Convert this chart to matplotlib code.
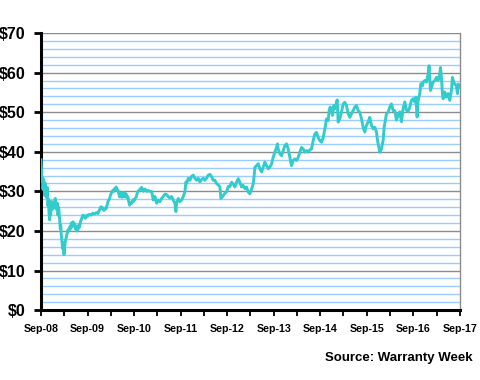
import matplotlib
matplotlib.use('Agg')
import matplotlib.pyplot as plt
from matplotlib.ticker import MultipleLocator, FixedLocator

# months since Sep-08 and share price in $
months = [0.0, 0.15, 0.26, 0.4, 0.52, 0.7, 0.95, 1.1, 1.37, 1.6, 1.8, 1.95, 2.06, 2.23, 2.35, 2.49,
          2.66, 2.9, 3.09, 3.3, 3.52, 3.69, 3.85, 3.95, 4.2, 4.38, 4.55, 4.64, 4.8, 4.98, 5.1, 5.24,
          5.4, 5.58, 5.75, 5.93, 6.1, 6.3, 6.53, 6.75, 6.96, 7.2, 7.39, 7.6, 7.82, 8.0, 8.25, 8.45,
          8.68, 8.9, 9.11, 9.3, 9.53, 9.75, 9.96, 10.2, 10.39, 10.6, 10.82, 11.05, 11.25, 11.45,
          11.68, 11.9, 12.11, 12.5, 12.97, 13.4, 13.83, 14.25, 14.69, 14.9, 15.12, 15.35, 15.55,
          15.75, 15.98, 16.2, 16.41, 16.6, 16.84, 17.05, 17.27, 17.5, 17.7, 17.9, 18.12, 18.35,
          18.55, 18.75, 18.98, 19.2, 19.41, 19.6, 19.84, 20.05, 20.27, 20.5, 20.7, 20.9, 21.13,
          21.35, 21.56, 21.75, 21.99, 22.2, 22.42, 22.6, 22.85, 23.05, 23.28, 23.5, 23.71, 23.9,
          24.14, 24.35, 24.57, 24.8, 25.0,
          25.51, 25.94, 26.37, 26.8, 27.23, 27.66, 28.09, 28.52, 28.78, 28.95, 29.38, 29.81, 30.24,
          30.67, 31.1, 31.52, 31.95, 32.38, 32.81, 33.24, 33.67, 34.1, 34.53, 34.79, 34.96, 35.39,
          35.82, 36.25, 36.68, 37.11, 37.37, 37.54, 37.97, 38.4, 38.83, 39.26, 39.69, 40.12, 40.54,
          40.97, 41.4, 41.83, 42.26, 42.69, 43.12, 43.55, 43.98, 44.41, 44.84, 45.27, 45.7, 46.13,
          46.39, 46.82, 47.42, 47.85, 48.28, 48.71,
          49.14, 49.56, 49.99, 50.42, 50.85, 51.28, 51.71, 52.14, 52.57, 53.0, 53.43, 53.86, 54.29,
          54.72, 54.97, 55.15, 55.58, 56.01, 56.44, 56.87, 57.3, 57.72, 58.15, 58.58, 59.01, 59.44,
          59.87, 60.3, 60.73, 60.99, 61.16, 61.59, 62.02, 62.45, 62.88, 63.31, 63.74, 64.17, 64.6,
          65.03, 65.46, 65.89, 66.32, 66.75, 67.18, 67.6, 68.03, 68.46, 68.89, 69.32, 69.75, 70.18,
          70.61, 71.04, 71.47, 71.9, 72.33, 72.76, 73.19,
          73.62, 74.05, 74.3, 74.56, 74.9, 75.16, 75.51, 75.76, 76.19, 76.37, 76.62, 77.05, 77.48,
          77.91, 78.34, 78.77, 79.2, 79.63, 80.06, 80.49, 80.92, 81.35, 81.78, 82.21, 82.64, 83.06,
          83.49, 83.92, 84.35, 84.78, 85.21, 85.64, 86.07, 86.5, 86.76, 87.1, 87.36, 87.79, 88.22,
          88.48, 88.82, 89.08, 89.51, 89.94, 90.37, 90.8, 91.23,
          91.66, 92.08, 92.51, 92.94, 93.37, 93.8, 94.23, 94.66, 95.09, 95.52, 95.95, 96.38, 96.64,
          96.98, 97.24, 97.67, 97.93, 98.36, 98.53, 98.96, 99.39, 99.82, 100.07, 100.24, 100.42,
          100.67, 101.1, 101.53, 101.96, 102.39, 102.82, 103.0, 103.25, 103.51, 103.68, 104.11,
          104.54, 104.97, 105.4, 105.83, 106.09, 106.43, 106.69, 107.12, 107.37, 107.55, 107.8]

price = [38.0, 35.0, 32.5, 33.5, 30.5, 33.0, 29.0, 32.0, 28.5, 31.0, 26.3, 28.0, 24.5, 22.8, 26.0, 24.0,
         27.5, 25.5, 27.0, 25.8, 27.5, 28.2, 26.5, 25.5, 27.0, 24.0, 26.0, 25.0, 23.0, 20.5, 21.5, 18.8,
         17.5, 15.5, 17.0, 14.0, 16.0, 17.5, 18.5, 19.5, 20.3, 20.0, 21.0, 20.5, 22.0, 21.0, 22.3, 21.5,
         21.8, 20.5, 21.2, 20.0, 20.3, 21.5, 21.0, 22.5, 22.8, 23.5, 24.0, 23.5, 23.8, 23.2,
         23.5, 24.0, 23.8, 24.2, 24.0, 24.5, 24.3, 24.6, 24.4, 25.0, 25.3, 26.0, 26.1,
         25.6, 25.8, 25.2, 25.3, 25.8, 25.7, 26.5, 27.4, 27.8, 28.2, 29.0, 29.5, 30.0,
         30.3, 30.0, 30.7, 30.5, 31.1, 30.5, 30.3, 29.5, 28.6, 29.5, 29.3, 28.5, 29.7,
         28.8, 28.6, 29.5, 29.3, 28.4, 28.6, 27.5, 26.5, 27.0, 26.9, 27.5, 27.3, 28.0,
         27.8, 28.3, 28.6, 29.5, 30.0,
         30.5, 31.0, 30.0, 30.6, 30.0, 30.2, 30.0, 30.0, 28.7, 27.8, 28.7, 27.0, 27.8,
         27.4, 28.2, 28.7, 29.3, 29.2, 28.7, 28.3, 28.7, 27.8, 27.0, 24.9, 27.0, 28.2,
         27.4, 27.8, 28.7, 29.9, 32.4, 32.0, 33.3, 32.8, 33.8, 34.1, 33.3, 32.8, 33.3,
         32.4, 33.0, 33.3, 32.8, 33.3, 34.1, 34.3, 33.7, 32.8, 32.8, 32.0, 31.6, 31.2,
         28.2, 28.7, 29.5, 29.9, 31.2, 31.2,
         32.3, 31.9, 31.1, 32.3, 33.2, 32.3, 31.1, 31.5, 30.7, 31.1, 29.8, 29.4, 30.6,
         31.9, 34.0, 36.1, 36.5, 37.0, 35.7, 34.9, 36.1, 37.4, 36.5, 35.7, 36.1, 36.9,
         38.6, 39.9, 41.1, 42.0, 40.7, 39.5, 39.0, 40.3, 41.5, 42.0, 40.7, 38.6, 36.5,
         37.8, 38.2, 37.8, 38.6, 39.9, 41.1, 40.7, 39.9, 40.3, 39.9, 40.5, 40.7, 42.8,
         44.5, 44.9, 43.6, 42.8, 42.4, 43.6, 45.7,
         48.3, 47.9, 50.4, 51.3, 50.4, 49.2, 51.7, 50.9, 52.5, 53.1, 47.5, 48.3, 50.0,
         52.1, 52.5, 51.7, 49.6, 48.7, 49.6, 50.4, 51.3, 51.7, 50.4, 50.0, 48.3, 46.2,
         45.0, 46.7, 47.5, 48.7, 46.7, 45.8, 46.2, 45.0, 42.9, 41.2, 39.9, 40.7, 42.9,
         46.2, 48.2, 49.6, 50.0, 51.3, 52.1, 50.4, 50.4,
         48.0, 49.3, 50.1, 47.6, 50.9, 52.6, 50.5, 50.1, 51.3, 53.0, 53.4, 52.6, 53.8,
         48.8, 53.0, 54.7, 57.2, 56.7, 57.6, 58.0, 57.6, 59.7, 61.75, 58.8, 55.5,
         56.3, 57.6, 58.0, 58.8, 58.0, 59.7, 61.3, 58.8, 54.7, 53.4, 55.1,
         53.8, 54.7, 53.0, 55.5, 58.8, 57.6, 57.1, 56.7, 54.7, 57.1, 56.3]

tick_labels = ['Sep-08', 'Sep-09', 'Sep-10', 'Sep-11', 'Sep-12',
               'Sep-13', 'Sep-14', 'Sep-15', 'Sep-16', 'Sep-17']

plt.rcParams['font.family'] = ['Liberation Sans', 'DejaVu Sans']

fig = plt.figure(figsize=(4.8, 3.8), dpi=100)
ax = fig.add_axes([0.0854, 0.184, 0.8726, 0.729])

ax.plot(months, price, color='#33CCCC', lw=2.1, zorder=3)

ax.set_xlim(0, 108)
ax.set_ylim(0, 70)

# grid: light blue every $2, grey every $10
ax.yaxis.set_minor_locator(MultipleLocator(2))
ax.yaxis.set_major_locator(MultipleLocator(10))
ax.grid(which='minor', axis='y', color='#99CCFF', lw=1.0, zorder=1)
ax.grid(which='major', axis='y', color='#8C8C8C', lw=1.0, zorder=2)

ax.set_yticks(range(0, 71, 10))
ax.set_yticklabels(['$%d' % v for v in range(0, 71, 10)], fontsize=11.5, fontweight='bold')
ax.tick_params(axis='y', which='major', direction='out', length=5, width=2, pad=6)
ax.tick_params(axis='y', which='minor', length=0)

ax.xaxis.set_major_locator(FixedLocator([12 * i for i in range(10)]))
ax.xaxis.set_minor_locator(FixedLocator([6 + 12 * i for i in range(9)]))
ax.set_xticklabels(tick_labels, fontsize=7.7, fontweight='bold')
ax.tick_params(axis='x', which='both', direction='out', length=4, width=1.3, pad=6)

ax.spines['left'].set_linewidth(2.2)
ax.spines['bottom'].set_linewidth(2.2)
ax.spines['right'].set_color('#8C8C8C')
ax.spines['right'].set_linewidth(1.0)
ax.spines['top'].set_visible(False)

fig.text(0.985, 0.058, 'Source: Warranty Week', ha='right', va='center',
         fontsize=9.5, fontweight='bold')

fig.savefig('out.png', dpi=100)
